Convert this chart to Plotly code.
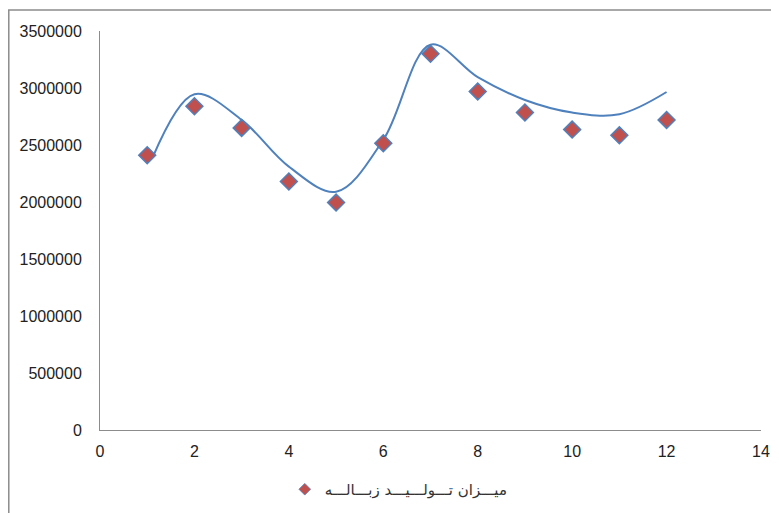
import plotly.graph_objects as go

months = [1, 2, 3, 4, 5, 6, 7, 8, 9, 10, 11, 12]
waste = [2410000, 2840000, 2650000, 2180000, 1995000, 2515000,
         3300000, 2970000, 2785000, 2635000, 2585000, 2720000]

trend_x = [1.12, 2, 3, 4, 5, 6, 7, 8, 9, 10, 11, 12]
trend_y = [2395000, 2945000, 2720000, 2310000, 2090000, 2545000,
           3380000, 3095000, 2895000, 2785000, 2770000, 2965000]

series_name = "میـــزان تـــولـــیـــد زبـــالـــه"

x_ticks = [0, 2, 4, 6, 8, 10, 12, 14]
y_ticks = [0, 500000, 1000000, 1500000, 2000000, 2500000, 3000000, 3500000]

fig = go.Figure()
fig.add_trace(go.Scatter(
    x=trend_x, y=trend_y, mode="lines",
    line=dict(color="#4F81BD", width=2, shape="spline", smoothing=1.0),
    showlegend=False, hoverinfo="skip"))
fig.add_trace(go.Scatter(
    x=months, y=waste, mode="markers", name=series_name, showlegend=False,
    marker=dict(symbol="diamond", size=13, color="#C0504D",
                line=dict(color="#4F81BD", width=1.5))))
# legend entry with the smaller legend symbol
fig.add_trace(go.Scatter(
    x=[None], y=[None], mode="markers", name=series_name,
    marker=dict(symbol="diamond", size=9, color="#C0504D",
                line=dict(color="#4F81BD", width=0.8))))

font_family = "Liberation Sans, Arial"
fig.update_layout(
    width=779, height=513,
    margin=dict(l=92, r=26, t=23, b=91, autoexpand=False),
    paper_bgcolor="white", plot_bgcolor="white",
    font=dict(family=font_family, size=16, color="#222222"),
    xaxis=dict(range=[0, 14], tickvals=x_ticks, showgrid=False, zeroline=False,
               showline=True, linecolor="#8c8c8c", linewidth=1, automargin=False,
               ticks="outside", ticklen=7, tickcolor="rgba(0,0,0,0)",
               tickfont=dict(size=16)),
    yaxis=dict(range=[0, 3500000], tickvals=y_ticks,
               ticktext=[str(v) for v in y_ticks], showgrid=False, zeroline=False,
               showline=True, linecolor="#8c8c8c", linewidth=1, automargin=False,
               ticks="outside", ticklen=14, tickcolor="rgba(0,0,0,0)",
               tickfont=dict(size=16)),
    legend=dict(orientation="h", x=0.452, xanchor="center",
                yref="container", y=0.0936, yanchor="top",
                font=dict(family="DejaVu Sans", size=15, color="#333333"),
                itemsizing="trace"),
    shapes=[dict(type="rect", xref="paper", yref="paper",
                 x0=-0.138, x1=1.1, y0=-0.4, y1=1.0526,
                 line=dict(color="#8c8c8c", width=1.5), fillcolor="rgba(0,0,0,0)",
                 layer="below")],
)

fig.write_html("out.html")
